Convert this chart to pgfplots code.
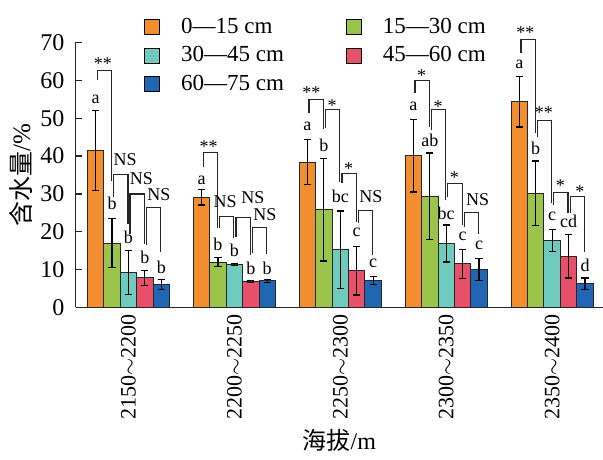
\documentclass[border=0pt]{standalone}
\usepackage{fontspec}
\setmainfont{Liberation Serif}
\newfontfamily\cjk{Noto Sans CJK SC}
\usepackage{pgfplots}
\pgfplotsset{compat=1.18}
\definecolor{cO}{HTML}{F28E2F}
\definecolor{cG}{HTML}{9BC44B}
\definecolor{cT}{HTML}{6ECBBE}
\definecolor{cR}{HTML}{E8506A}
\definecolor{cB}{HTML}{1F66B5}
\tikzset{anno/.style={font=\fontsize{9}{10}\selectfont, inner sep=0pt}}
\pgfplotsset{eb/.style={draw=black!85, line width=0.5pt,
  error bars/.cd, y dir=both, y explicit,
  error bar style={black, line width=0.6pt},
  error mark options={rotate=90, black, mark size=1.8pt, line width=0.6pt}}}
% bracket: group, k (joins bar k-1 and k), ytop, yleft, yright, label, label y, label x offset
\newcommand{\brk}[8]{%
  \draw[black!85, line width=0.6pt] (axis cs:{#1+(#2-3)*0.155+0.015},#4) |- (axis cs:{#1+(#2-2)*0.155-0.005},#3) -- (axis cs:{#1+(#2-2)*0.155-0.005},#5);
  \node[anno] at (axis cs:{#1+(#2-2.5)*0.155+#8},#7) {#6};}
% letter: group, bar, y, text
\newcommand{\lab}[4]{\node[anno] at (axis cs:{#1+(#2-2)*0.155},#3) {#4};}
\begin{document}
\begin{tikzpicture}
\useasboundingbox (-37.75pt,-75.75pt) rectangle (263.75pt,153.75pt);
\begin{axis}[
  at={(0,0)}, anchor=south west,
  scale only axis, width=263.75pt, height=132.5pt,
  ybar, bar width=0.155, bar shift=0pt,
  every axis plot post/.append style={legend image code/.code={\draw[##1,draw=black,line width=0.5pt] (0pt,-3.75pt) rectangle (7.5pt,3.75pt);}},
  xmin=-0.5, xmax=4.48, ymin=0, ymax=70,
  axis x line*=bottom, axis y line*=left,
  axis line style={-, line width=0.6pt, black!85},
  xtick={0,1,2,3,4},
  xticklabels={2150$\sim$2200,2200$\sim$2250,2250$\sim$2300,2300$\sim$2350,2350$\sim$2400},
  xticklabel style={rotate=90, anchor=east, font=\fontsize{11}{12}\selectfont},
  major x tick style={draw=none},
  ytick={0,10,...,70},
  tick align=inside, major tick length=3pt,
  tick style={black!85, line width=0.6pt},
  yticklabel style={font=\fontsize{12}{13}\selectfont, xshift=-2pt},
  /pgf/number format/assume math mode=true,
  ylabel={{\cjk 含水量}/\%},
  ylabel style={at={(axis description cs:-0.104,0.5)}, anchor=center, font=\fontsize{12.5}{14}\selectfont},
  xlabel={{\cjk 海拔}/m},
  xlabel style={at={(axis description cs:0.5,-0.5)}, anchor=center, font=\fontsize{12}{14}\selectfont},
  legend style={at={(axis description cs:0.118,1.123)}, anchor=north west, draw=none, fill=none,
    font=\fontsize{11.5}{13}\selectfont, legend columns=2, row sep=1pt,
    /tikz/every odd column/.append style={column sep=4.5pt},
    /tikz/every even column/.append style={column sep=29pt}},
  legend cell align=left,
  clip=false,
]
\addplot[fill=cO, eb] coordinates {
 (-0.31,41.5) +- (0,10.5)
 (0.69,29.1) +- (0,2.0)
 (1.69,38.4) +- (0,6.0)
 (2.69,40.1) +- (0,9.6)
 (3.69,54.4) +- (0,6.7)};
\addplot[fill=cG, eb] coordinates {
 (-0.155,17.0) +- (0,6.5)
 (0.845,12.0) +- (0,1.2)
 (1.845,25.8) +- (0,13.5)
 (2.845,29.4) +- (0,11.4)
 (3.845,30.2) +- (0,8.5)};
\addplot[fill=cT, eb] coordinates {
 (0,9.2) +- (0,5.8)
 (1,11.4) +- (0,0.3)
 (2,15.3) +- (0,10.2)
 (3,16.9) +- (0,4.9)
 (4,17.7) +- (0,2.9)};
\addplot[fill=cR, eb] coordinates {
 (0.155,7.8) +- (0,1.9)
 (1.155,6.8) +- (0,0.3)
 (2.155,9.7) +- (0,6.4)
 (3.155,11.5) +- (0,3.8)
 (4.155,13.5) +- (0,5.7)};
\addplot[fill=cB, eb] coordinates {
 (0.31,6.1) +- (0,1.3)
 (1.31,7.0) +- (0,0.3)
 (2.31,7.1) +- (0,1.0)
 (3.31,10.0) +- (0,2.9)
 (4.31,6.3) +- (0,1.5)};
\legend{\hspace*{4pt}0---15 cm,\hspace*{4pt}15---30 cm,\hspace*{4pt}30---45 cm,\hspace*{4pt}45---60 cm,\hspace*{4pt}60---75 cm}
% group 0
\brk{0}{1}{62.6}{60.0}{33.4}{**}{64.3}{-0.01}
\brk{0}{2}{35.1}{29.1}{22.1}{NS}{39.0}{0.045}
\brk{0}{3}{30.0}{19.5}{16.8}{NS}{34.0}{0.045}
\brk{0}{4}{26.5}{16.6}{14.6}{NS}{29.8}{0.055}
\lab{0}{0}{55.1}{a}\lab{0}{1}{27.4}{b}\lab{0}{2}{18.4}{b}\lab{0}{3}{13.3}{b}\lab{0}{4}{10.6}{b}
% group 1
\brk{1}{1}{41.0}{37.2}{20.9}{**}{42.4}{-0.01}
\brk{1}{2}{24.0}{20.9}{18.3}{NS}{27.9}{-0.01}
\brk{1}{3}{23.8}{18.7}{13.9}{NS}{29.1}{0.096}
\brk{1}{4}{21.2}{14.3}{14.1}{NS}{24.5}{0.055}
\lab{1}{0}{33.6}{a}\lab{1}{1}{16.8}{b}\lab{1}{2}{15.2}{b}\lab{1}{3}{10.4}{b}\lab{1}{4}{10.4}{b}
% group 2
\brk{2}{1}{55.0}{51.3}{47.1}{**}{56.8}{-0.04}
\brk{2}{2}{52.3}{47.3}{33.2}{*}{53.3}{0}
\brk{2}{3}{35.4}{32.8}{22.7}{*}{36.6}{0}
\brk{2}{4}{25.6}{22.2}{13.9}{NS}{29.3}{0.055}
\lab{2}{0}{47.9}{a}\lab{2}{1}{42.9}{b}\lab{2}{2}{29.3}{bc}\lab{2}{3}{19.8}{c}\lab{2}{4}{11.7}{c}
% group 3
\brk{3}{1}{59.9}{56.7}{47.8}{*}{61.2}{0}
\brk{3}{2}{52.2}{46.9}{28.4}{*}{53.1}{0}
\brk{3}{3}{32.8}{29.3}{21.8}{*}{34.2}{0}
\brk{3}{4}{25.0}{21.3}{19.5}{NS}{28.4}{0.065}
\lab{3}{0}{53.2}{a}\lab{3}{1}{44.2}{ab}\lab{3}{2}{25.0}{bc}\lab{3}{3}{18.7}{c}\lab{3}{4}{16.5}{c}
% group 4
\brk{4}{1}{70.8}{67.1}{46.0}{**}{72.5}{-0.02}
\brk{4}{2}{49.3}{45.1}{27.5}{**}{51.4}{0}
\brk{4}{3}{30.3}{27.1}{24.9}{*}{32.2}{0}
\brk{4}{4}{29.3}{24.9}{14.7}{*}{30.7}{0.03}
\lab{4}{0}{64.1}{a}\lab{4}{1}{42.0}{b}\lab{4}{2}{24.0}{c}\lab{4}{3}{22.7}{cd}\lab{4}{4}{11.2}{d}
\end{axis}
\end{tikzpicture}
\end{document}
